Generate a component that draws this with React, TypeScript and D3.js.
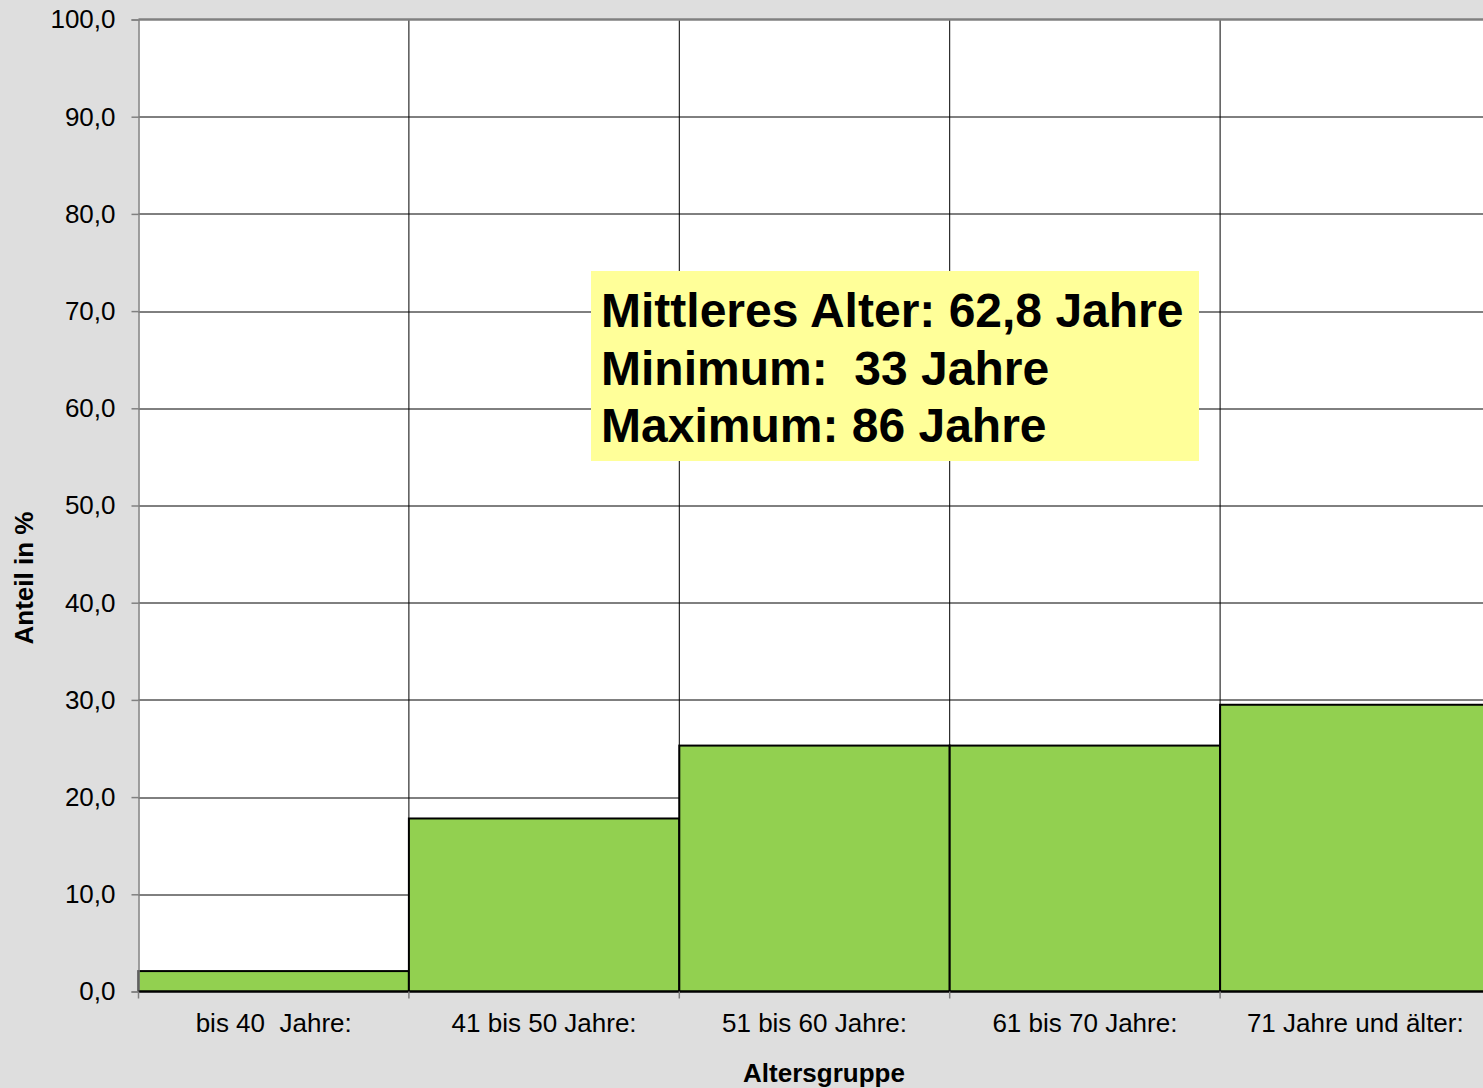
import React, { useRef, useEffect } from 'react';
import * as d3 from 'd3';

const categories = ['bis 40  Jahre:', '41 bis 50 Jahre:', '51 bis 60 Jahre:', '61 bis 70 Jahre:', '71 Jahre und älter:'];
const shares = [2.1, 17.8, 25.3, 25.3, 29.5];
const yTicks = [0, 10, 20, 30, 40, 50, 60, 70, 80, 90, 100];
const infoLines = ['Mittleres Alter: 62,8 Jahre', 'Minimum:  33 Jahre', 'Maximum: 86 Jahre'];

const FONT = 'Arial, "Liberation Sans", sans-serif';

const App: React.FC = () => {
  const svgRef = useRef<SVGSVGElement | null>(null);

  useEffect(() => {
    if (!svgRef.current) return;
    const W = 1483;
    const H = 1088;
    const margin = { top: 19.5, left: 138.5 };
    const plotW = 1352;
    const plotH = 972;

    const svg = d3.select(svgRef.current);
    svg.selectAll('*').remove();
    svg.attr('width', W).attr('height', H).style('font-family', FONT);

    svg.append('rect').attr('width', W).attr('height', H).attr('fill', '#dedede');

    const g = svg.append('g').attr('transform', `translate(${margin.left},${margin.top})`);

    const x = d3.scaleBand().domain(categories).range([0, plotW]).padding(0);
    const y = d3.scaleLinear().domain([0, 100]).range([plotH, 0]);

    // Plotfläche
    g.append('rect').attr('width', plotW).attr('height', plotH).attr('fill', '#ffffff');

    // horizontale Gitterlinien
    g.append('g')
      .selectAll('line')
      .data(yTicks.filter((t) => t > 0 && t < 100))
      .enter()
      .append('line')
      .attr('x1', 0)
      .attr('x2', plotW)
      .attr('y1', (d) => Math.round(y(d)) + 0.5)
      .attr('y2', (d) => Math.round(y(d)) + 0.5)
      .attr('stroke', '#000')
      .attr('stroke-width', 1);

    // vertikale Gitterlinien
    g.append('g')
      .selectAll('line')
      .data(categories.slice(1))
      .enter()
      .append('line')
      .attr('x1', (d) => x(d)!)
      .attr('x2', (d) => x(d)!)
      .attr('y1', 0)
      .attr('y2', plotH)
      .attr('stroke', '#000')
      .attr('stroke-width', 1);

    // oberer Rand
    g.append('line')
      .attr('x1', 0)
      .attr('x2', plotW)
      .attr('y1', 0)
      .attr('y2', 0)
      .attr('stroke', '#808080')
      .attr('stroke-width', 2.5);

    // Balken
    g.append('g')
      .selectAll('rect')
      .data(shares)
      .enter()
      .append('rect')
      .attr('x', (_, i) => x(categories[i])!)
      .attr('y', (d) => y(d))
      .attr('width', x.bandwidth())
      .attr('height', (d) => plotH - y(d))
      .attr('fill', '#92d050')
      .attr('stroke', '#000')
      .attr('stroke-width', 2);

    // Y-Achse
    const yAxis = d3
      .axisLeft(y)
      .tickValues(yTicks)
      .tickSize(7)
      .tickPadding(16)
      .tickFormat((d) => d3.format('.1f')(d as number).replace('.', ','));
    const yAxisG = g.append('g').call(yAxis);
    yAxisG.select('.domain').attr('stroke', '#808080').attr('stroke-width', 1.5);
    yAxisG.selectAll('.tick line').attr('stroke', '#808080').attr('stroke-width', 1.5);
    yAxisG.selectAll('.tick text').attr('font-size', 26).attr('fill', '#000').attr('font-family', FONT);

    // X-Achse
    const xTickPos = categories.map((_, i) => i * x.bandwidth());
    const xAxisG = g.append('g').attr('transform', `translate(0,${plotH})`);
    xAxisG
      .append('line')
      .attr('x1', 0)
      .attr('x2', plotW)
      .attr('stroke', '#000')
      .attr('stroke-width', 2);
    xAxisG
      .selectAll('.xt')
      .data(xTickPos)
      .enter()
      .append('line')
      .attr('x1', (d) => d)
      .attr('x2', (d) => d)
      .attr('y1', 0)
      .attr('y2', 7)
      .attr('stroke', '#808080')
      .attr('stroke-width', 1.5);
    xAxisG
      .selectAll('.xl')
      .data(categories)
      .enter()
      .append('text')
      .attr('x', (d) => x(d)! + x.bandwidth() / 2)
      .attr('y', 40.5)
      .attr('text-anchor', 'middle')
      .attr('font-size', 26)
      .attr('fill', '#000')
      .style('white-space', 'pre')
      .text((d) => d);

    // Achsentitel
    svg
      .append('text')
      .attr('x', 824)
      .attr('y', 1082)
      .attr('text-anchor', 'middle')
      .attr('font-size', 26)
      .attr('font-weight', 'bold')
      .text('Altersgruppe');
    svg
      .append('text')
      .attr('transform', 'translate(33,578) rotate(-90)')
      .attr('text-anchor', 'middle')
      .attr('font-size', 26)
      .attr('font-weight', 'bold')
      .text('Anteil in %');

    // Infobox
    const box = svg.append('g').attr('transform', 'translate(591,271)');
    box.append('rect').attr('width', 608).attr('height', 190).attr('fill', '#ffff99');
    box
      .selectAll('text')
      .data(infoLines)
      .enter()
      .append('text')
      .attr('x', 10)
      .attr('y', (_, i) => 56 + i * 57.5)
      .attr('font-size', 48)
      .attr('font-weight', 'bold')
      .attr('fill', '#000')
      .style('white-space', 'pre')
      .text((d) => d);
  }, []);

  return (
    <svg
      ref={svgRef}
      style={{ position: 'absolute', left: 0, top: 0, display: 'block' }}
    />
  );
};

export default App;
